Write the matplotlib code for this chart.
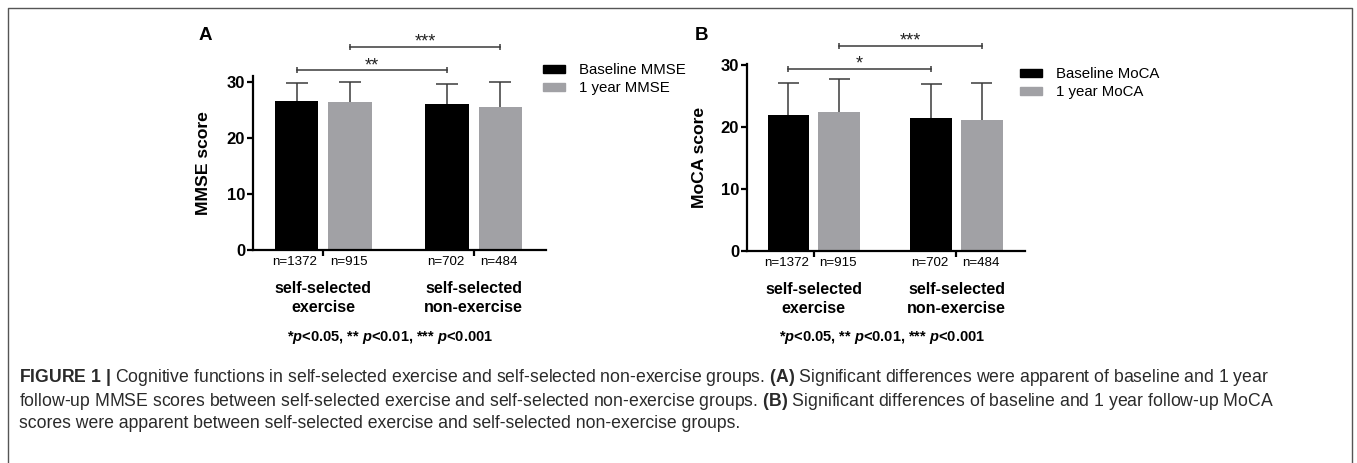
import matplotlib
matplotlib.use("Agg")
import matplotlib.pyplot as plt
from matplotlib.patches import Patch
from matplotlib.lines import Line2D
import numpy as np

plt.rcParams["font.family"] = ["Liberation Sans", "DejaVu Sans"]
plt.rcParams["mathtext.fontset"] = "custom"
plt.rcParams["mathtext.rm"] = "Liberation Sans"
plt.rcParams["mathtext.bf"] = "Liberation Sans:bold"
plt.rcParams["mathtext.it"] = "Liberation Sans:italic"
plt.rcParams["mathtext.bfit"] = "Liberation Sans:italic:bold"

# data
groups = ["self-selected\nexercise", "self-selected\nnon-exercise"]
n_baseline = [1372, 702]
n_year = [915, 484]

mmse_base = [26.6, 26.1]
mmse_base_sd = [3.1, 3.4]
mmse_year = [26.4, 25.4]
mmse_year_sd = [3.6, 4.5]

moca_base = [22.0, 21.4]
moca_base_sd = [5.2, 5.6]
moca_year = [22.4, 21.1]
moca_year_sd = [5.4, 6.0]

# (label, which pair of bars, height)
mmse_sig = [("**", "base", 32.0), ("***", "year", 36.2)]
moca_sig = [("*", "base", 29.4), ("***", "year", 33.1)]

yticks = [0, 10, 20, 30]

W, H = 1357, 463
BLACK = "#000000"
GREY = "#a1a1a5"
LINE = "#3a3a3a"

fig = plt.figure(figsize=(W / 100, H / 100), dpi=100)


def px_box(x0, y_zero, x1, y_top):
    return [x0 / W, (H - y_zero) / H, (x1 - x0) / W, (y_zero - y_top) / H]


def panel(box, ytop, base, base_sd, year, year_sd, sig, ylabel, leg_labels, leg_xy, letter, letter_xy, foot_x):
    ax = fig.add_axes(box)
    x = np.arange(len(groups))
    w, off, cap = 0.29, 0.178, 0.073
    xb, xy = x - off, x + off
    base, base_sd = np.array(base), np.array(base_sd)
    year, year_sd = np.array(year), np.array(year_sd)

    ax.bar(xb, base, w, color=BLACK, zorder=2)
    ax.bar(xy, year, w, color=GREY, zorder=2)
    for xs, v, sd in [(xb, base, base_sd), (xy, year, year_sd)]:
        ax.vlines(xs, v, v + sd, color=LINE, lw=1.1, zorder=1)
        ax.hlines(v + sd, xs - cap, xs + cap, color=LINE, lw=1.1, zorder=1)

    for lab, which, lvl in sig:
        xs = xb if which == "base" else xy
        ax.plot([xs[0], xs[1]], [lvl, lvl], color=LINE, lw=1.1, clip_on=False,
                marker="|", markersize=5, markeredgewidth=1.1)
        ax.annotate(lab, xy=((xs[0] + xs[1]) / 2, lvl), xytext=(0, 3.5), textcoords="offset points",
                    ha="center", va="center", fontsize=13, color="#222222", annotation_clip=False)

    ax.set_xlim(-0.47, 1.48)
    ax.set_ylim(0, ytop)
    ax.spines[["top", "right"]].set_visible(False)
    for s in ["left", "bottom"]:
        ax.spines[s].set_linewidth(1.6)
    ax.spines["left"].set_bounds(0, ytop)
    ax.set_yticks(yticks)
    ax.set_yticklabels([str(t) for t in yticks], fontweight="bold", fontsize=12)
    ax.set_xticks(x)
    ax.set_xticklabels(["", ""])
    ax.tick_params(axis="y", length=4, width=1.6, pad=1.5)
    ax.tick_params(axis="x", length=4, width=1.6)
    ax.set_ylabel(ylabel, fontweight="bold", fontsize=12.6)
    ax.yaxis.set_label_coords(-0.142, 0.5)

    for xs, ns in [(xb, n_baseline), (xy, n_year)]:
        for xi, n in zip(xs, ns):
            ax.annotate(f"n={n}", xy=(xi - 0.01, 0), xycoords=("data", "axes fraction"),
                        xytext=(0, -8.3), textcoords="offset points",
                        ha="center", va="center", fontsize=9.6)
    for xi, g in zip(x, groups):
        ax.annotate(g, xy=(xi, 0), xycoords=("data", "axes fraction"),
                    xytext=(0, -34.5), textcoords="offset points", ha="center", va="center",
                    fontsize=11.5, fontweight="bold", linespacing=1.32)

    handles = [Patch(color=BLACK), Patch(color=GREY)]
    ax.legend(handles, leg_labels, loc="upper left",
              bbox_to_anchor=(leg_xy[0] / W, (H - leg_xy[1]) / H), bbox_transform=fig.transFigure,
              frameon=False, fontsize=10.8, handlelength=1.45, handleheight=0.45,
              handletextpad=0.95, labelspacing=0.25, borderpad=0, borderaxespad=0)

    fig.text(letter_xy[0] / W, 1 - letter_xy[1] / H, letter, fontsize=13.5, fontweight="bold",
             ha="center", va="center")
    fig.text(foot_x / W, 1 - 337 / H,
             r"*$\mathbfit{p}$<0.05, ** $\mathbfit{p}$<0.01, *** $\mathbfit{p}$<0.001",
             fontsize=10.5, fontweight="bold", ha="center", va="center")
    return ax


panel(px_box(252.7, 250, 545.7, 76), 31.0, mmse_base, mmse_base_sd, mmse_year, mmse_year_sd,
      mmse_sig, "MMSE score", ["Baseline MMSE", "1 year MMSE"], (543, 63.5), "A", (205, 35), 389.5)
panel(px_box(746.7, 251, 1025, 64), 30.2, moca_base, moca_base_sd, moca_year, moca_year_sd,
      moca_sig, "MoCA score", ["Baseline MoCA", "1 year MoCA"], (1020, 67.5), "B", (701.7, 35), 881.5)

# caption
caption = [
    r"$\mathbf{FIGURE\ 1\ |}$ Cognitive functions in self-selected exercise and self-selected "
    r"non-exercise groups. $\mathbf{(A)}$ Significant differences were apparent of baseline and 1 year",
    r"follow-up MMSE scores between self-selected exercise and self-selected non-exercise groups. "
    r"$\mathbf{(B)}$ Significant differences of baseline and 1 year follow-up MoCA",
    "scores were apparent between self-selected exercise and self-selected non-exercise groups.",
]
for line, yy in zip(caption, [378, 401, 423]):
    fig.text(19 / W, 1 - yy / H, line, fontsize=12.7, color="#2a2a2a", ha="left", va="center")

# frame around the figure
fig.add_artist(Line2D([8 / W, 8 / W, 1352 / W, 1352 / W], [0, 1 - 8 / H, 1 - 8 / H, 0],
                      transform=fig.transFigure, color="#555555", lw=1))

fig.savefig("out.png", dpi=100)
